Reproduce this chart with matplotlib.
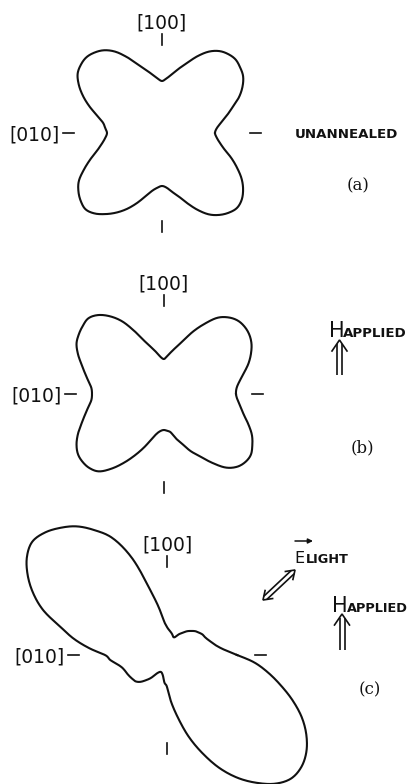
import numpy as np
import matplotlib.pyplot as plt

# polar patterns, radius every 5 degrees, angle counterclockwise from the right-hand axis
angles = np.arange(0, 360, 5)

r_unannealed = [53, 55, 60, 67, 75, 85, 93, 99, 102, 104, 103, 100, 94, 85, 75, 67, 60, 55,
                52, 55, 60, 66, 74, 84, 94, 101, 105, 107, 106, 103, 96, 87, 77, 67, 60, 57,
                55, 57, 61, 67, 76, 86, 96, 102, 106, 108, 105, 99, 92, 84, 75, 66, 59, 55,
                53, 55, 60, 66, 75, 85, 94, 100, 104, 106, 104, 99, 92, 83, 74, 65, 59, 55]

r_applied = [72, 73, 77, 83, 90, 96, 101, 104, 105, 104, 100, 93, 81, 69, 57, 49, 43, 38,
             35, 37, 42, 48, 56, 69, 84, 95, 103, 107, 106, 104, 101, 95, 88, 82, 77, 73,
             72, 73, 77, 82, 88, 95, 101, 105, 106, 105, 101, 91, 79, 67, 56, 46, 40, 37,
             36, 37, 39, 46, 53, 63, 72, 84, 96, 103, 106, 106, 102, 97, 90, 83, 78, 74]

r_light = [70, 58, 51, 47, 44, 42, 41, 39, 37, 34, 31, 27, 24, 20, 19, 21, 23, 25,
           28, 34, 49, 70, 104, 129, 144, 157, 166, 173, 176, 171, 161, 148, 132, 111, 95, 78,
           62, 57, 51, 47, 45, 44, 43, 42, 41, 38, 33, 28, 22, 19, 18, 19, 22, 28,
           32, 47, 64, 85, 105, 125, 142, 156, 168, 175, 175, 170, 161, 149, 134, 118, 103, 88]

patterns = [r_unannealed, r_applied, r_light]
panel_tags = ['(a)', '(b)', '(c)']
axis_labels = ['[100]', '[010]']

centres = [(162, 133), (164, 394), (167, 655)]
tick_r = (88, 99)
ink = '#111111'


def smooth_polar(ang_deg, r, n=16):
    # periodic Catmull-Rom on r(theta), so the trace runs smoothly between samples
    r = np.asarray(r, float)
    N = len(r)
    step = ang_deg[1] - ang_deg[0]
    t = np.linspace(0, 1, n, endpoint=False)
    th, rr = [], []
    for i in range(N):
        p0, p1, p2, p3 = r[(i - 1) % N], r[i], r[(i + 1) % N], r[(i + 2) % N]
        seg = 0.5 * (2 * p1 + (p2 - p0) * t + (2 * p0 - 5 * p1 + 4 * p2 - p3) * t ** 2
                     + (3 * p1 - p0 - 3 * p2 + p3) * t ** 3)
        th.append(ang_deg[i] + step * t)
        rr.append(seg)
    th = np.concatenate(th + [[ang_deg[0] + 360]])
    rr = np.concatenate(rr + [[r[0]]])
    return np.deg2rad(th), rr


def hollow_arrow(ax, tail, tip, both=False, gap=2.5, head_len=11, head_half=7.5, lw=1.2):
    tail, tip = np.array(tail, float), np.array(tip, float)
    u = (tip - tail) / np.linalg.norm(tip - tail)
    p = np.array([-u[1], u[0]])
    inset = gap * head_len / head_half
    start = tail + u * inset if both else tail
    for s in (-gap, gap):
        a, b = start + p * s, tip - u * inset + p * s
        ax.plot([a[0], b[0]], [a[1], b[1]], color=ink, lw=lw, solid_capstyle='butt')
    ends = [(tip, u)] + ([(tail, -u)] if both else [])
    for point, d in ends:
        w1 = point - d * head_len + p * head_half
        w2 = point - d * head_len - p * head_half
        ax.plot([w1[0], point[0], w2[0]], [w1[1], point[1], w2[1]], color=ink, lw=lw,
                solid_joinstyle='miter')


fig = plt.figure(figsize=(4.16, 7.84), dpi=100)
ax = fig.add_axes([0, 0, 1, 1])
ax.set_xlim(0, 416)
ax.set_ylim(784, 0)
ax.axis('off')

for (cx, cy), r in zip(centres, patterns):
    th, rr = smooth_polar(angles, r)
    ax.plot(cx + rr * np.cos(th), cy - rr * np.sin(th), color=ink, lw=1.5)

    # crystal axis marks
    for a in (0, 90, 180, 270):
        c, s = np.cos(np.deg2rad(a)), np.sin(np.deg2rad(a))
        ax.plot([cx + tick_r[0] * c, cx + tick_r[1] * c],
                [cy - tick_r[0] * s, cy - tick_r[1] * s], color=ink, lw=1.2)

    ax.text(cx, cy - 110, axis_labels[0], ha='center', va='center', fontsize=13.5, color=ink)
    ax.text(cx - 102, cy + 2, axis_labels[1], ha='right', va='center', fontsize=13.5, color=ink)

# (a)
ax.text(295, 134, 'UNANNEALED', ha='left', va='center', fontsize=9.6, weight='bold', color=ink)
ax.text(358, 186, panel_tags[0], ha='center', va='center', fontsize=12,
        family='DejaVu Serif', color=ink)

# (b)
ax.text(329, 337, 'H', ha='left', va='baseline', fontsize=15, color=ink)
ax.text(343, 337, 'APPLIED', ha='left', va='baseline', fontsize=9.6, weight='bold', color=ink)
hollow_arrow(ax, (339.5, 375), (339.5, 340))
ax.text(362, 448, panel_tags[1], ha='center', va='center', fontsize=12,
        family='DejaVu Serif', color=ink)

# (c)
ax.text(294, 563, 'E', ha='left', va='baseline', fontsize=11.5, color=ink)
ax.annotate('', xy=(313, 541), xytext=(295, 541),
            arrowprops=dict(arrowstyle='-|>', lw=1.1, color=ink, mutation_scale=7,
                            shrinkA=0, shrinkB=0))
ax.text(306, 563, 'LIGHT', ha='left', va='baseline', fontsize=9.3, weight='bold', color=ink)
hollow_arrow(ax, (263, 600), (295, 570), both=True, gap=2.2, head_len=8, head_half=5.5)
ax.text(332, 612, 'H', ha='left', va='baseline', fontsize=15, color=ink)
ax.text(347, 612, 'APPLIED', ha='left', va='baseline', fontsize=9.3, weight='bold', color=ink)
hollow_arrow(ax, (342, 650), (342, 614))
ax.text(370, 690, panel_tags[2], ha='center', va='center', fontsize=12,
        family='DejaVu Serif', color=ink)

fig.savefig('out.png', dpi=100)
